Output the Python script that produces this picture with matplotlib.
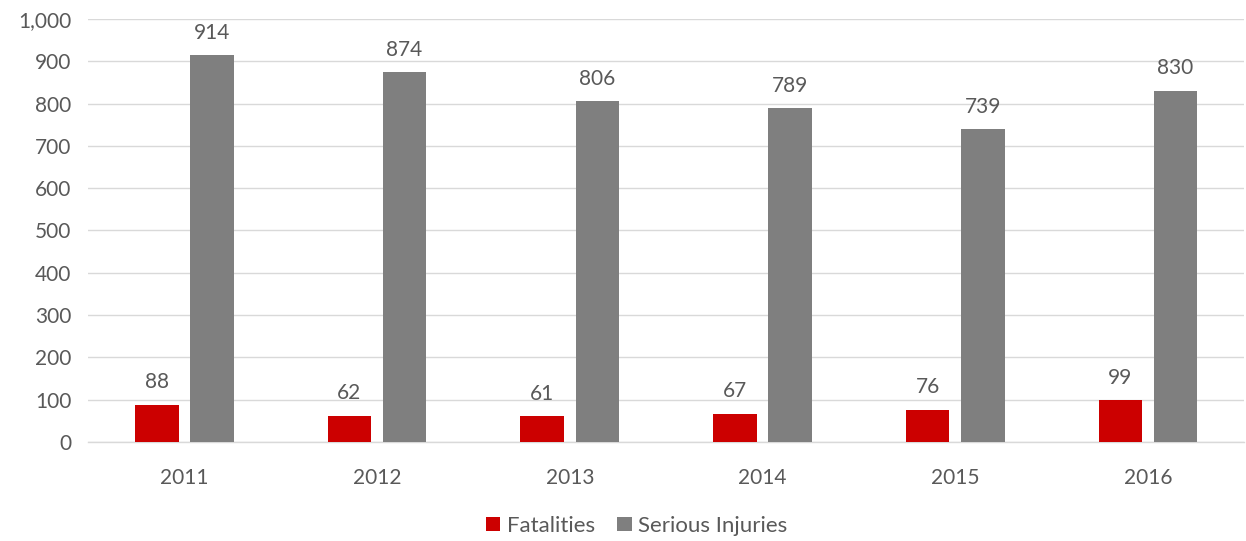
#!/usr/bin/env python3

import matplotlib.pyplot as plt
import numpy as np

import matplotlib
matplotlib.rcParams['font.family'] = ['Lato', 'DejaVu Sans']

years = ['2011', '2012', '2013', '2014', '2015', '2016']
fatalities = [88, 62, 61, 67, 76, 99]
serious_injuries = [914, 874, 806, 789, 739, 830]

RED = '#cc0000'
GREY = '#7f7f7f'
TEXT = '#595959'


def plot():
    fig = plt.figure(figsize=(12.46, 5.41), dpi=100)
    ax = fig.add_axes([0.0706, 0.183, 0.928, 0.782])

    ind = np.arange(len(years))
    w = 0.226
    off = 0.143

    b1 = ax.bar(ind - off, fatalities, w, color=RED, label='Fatalities', zorder=3)
    b2 = ax.bar(ind + off, serious_injuries, w, color=GREY, label='Serious Injuries', zorder=3)

    for bars in (b1, b2):
        ax.bar_label(bars, padding=9, fontsize=15, color=TEXT)

    ax.set_xlim(-0.5, len(years) - 0.5)
    ax.set_ylim(0, 1000)
    ax.set_yticks(np.arange(0, 1001, 100))
    ax.set_yticklabels([f'{v:,}' for v in range(0, 1001, 100)])
    ax.set_xticks(ind)
    ax.set_xticklabels(years)
    ax.tick_params(axis='both', length=0, labelsize=15, labelcolor=TEXT)
    ax.tick_params(axis='x', pad=19)
    ax.tick_params(axis='y', pad=12)

    ax.grid(axis='y', color='#d9d9d9', linewidth=1, zorder=0)
    for s in ('top', 'right', 'left'):
        ax.spines[s].set_visible(False)
    ax.spines['bottom'].set_color('#d9d9d9')
    ax.spines['bottom'].set_linewidth(1)

    leg = fig.legend(loc='center', bbox_to_anchor=(0.511, 0.028), ncol=2,
                     frameon=False, fontsize=16, handlelength=0.65,
                     handleheight=0.65, handletextpad=0.3, columnspacing=1.0)
    for t in leg.get_texts():
        t.set_color(TEXT)

    fig.savefig('out.png', dpi=100)


if __name__ == '__main__':
    plot()
